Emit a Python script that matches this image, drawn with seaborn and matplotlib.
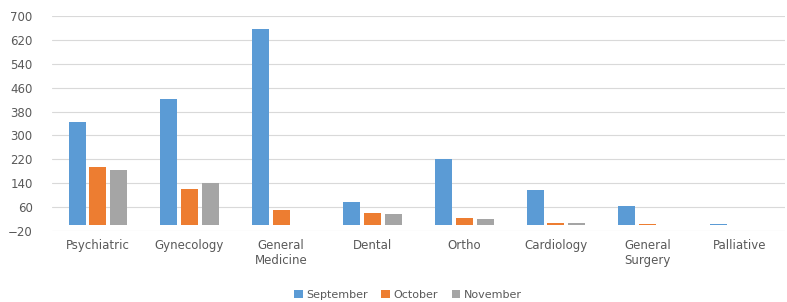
import pandas as pd
import matplotlib.pyplot as plt
import seaborn as sns

departments = ['Psychiatric', 'Gynecology', 'General\nMedicine', 'Dental', 'Ortho',
               'Cardiology', 'General\nSurgery', 'Palliative']
september = [346, 423, 656, 76, 220, 118, 64, 5]
october = [193, 120, 52, 41, 22, 6, 5, 0]
november = [184, 142, 0, 36, 20, 6, 0, 0]
months = ['September', 'October', 'November']
colors = ['#5B9BD5', '#ED7D31', '#A5A5A5']
yticks = list(range(-20, 701, 80))

df = pd.DataFrame({
    'department': departments * 3,
    'month': [m for m in months for _ in departments],
    'count': september + october + november,
})

sns.set_style('white')
plt.rcParams['font.family'] = ['DejaVu Sans']

fig = plt.figure(figsize=(7.87, 3.02), dpi=100)
ax = fig.add_axes([52 / 787, 1 - 231 / 302, 733 / 787, 215 / 302])

sns.barplot(data=df, x='department', y='count', hue='month', order=departments,
            hue_order=months, palette=colors, width=0.68, gap=0.18, ax=ax,
            saturation=1, linewidth=0, legend=True)

ax.set_ylim(-20, 700)
ax.set_yticks(yticks)
ax.set_xlim(-0.5, len(departments) - 0.5)
ax.yaxis.grid(True, color='#D9D9D9', linewidth=0.8)
ax.set_axisbelow(True)
for s in ax.spines.values():
    s.set_visible(False)
ax.set_xlabel('')
ax.set_ylabel('')
ax.tick_params(axis='both', length=0, labelsize=8.5, labelcolor='#595959')
ax.tick_params(axis='y', pad=14)
ax.tick_params(axis='x', pad=6)

handles, labels = ax.get_legend_handles_labels()
ax.get_legend().remove()
fig.legend(handles, labels, loc='center', bbox_to_anchor=(408 / 787, 1 - 295 / 302),
           ncol=3, frameon=False, fontsize=8, labelcolor='#595959',
           handlelength=0.8, handleheight=0.8, handletextpad=0.3, columnspacing=1.2)

fig.savefig('out.png', dpi=100)
